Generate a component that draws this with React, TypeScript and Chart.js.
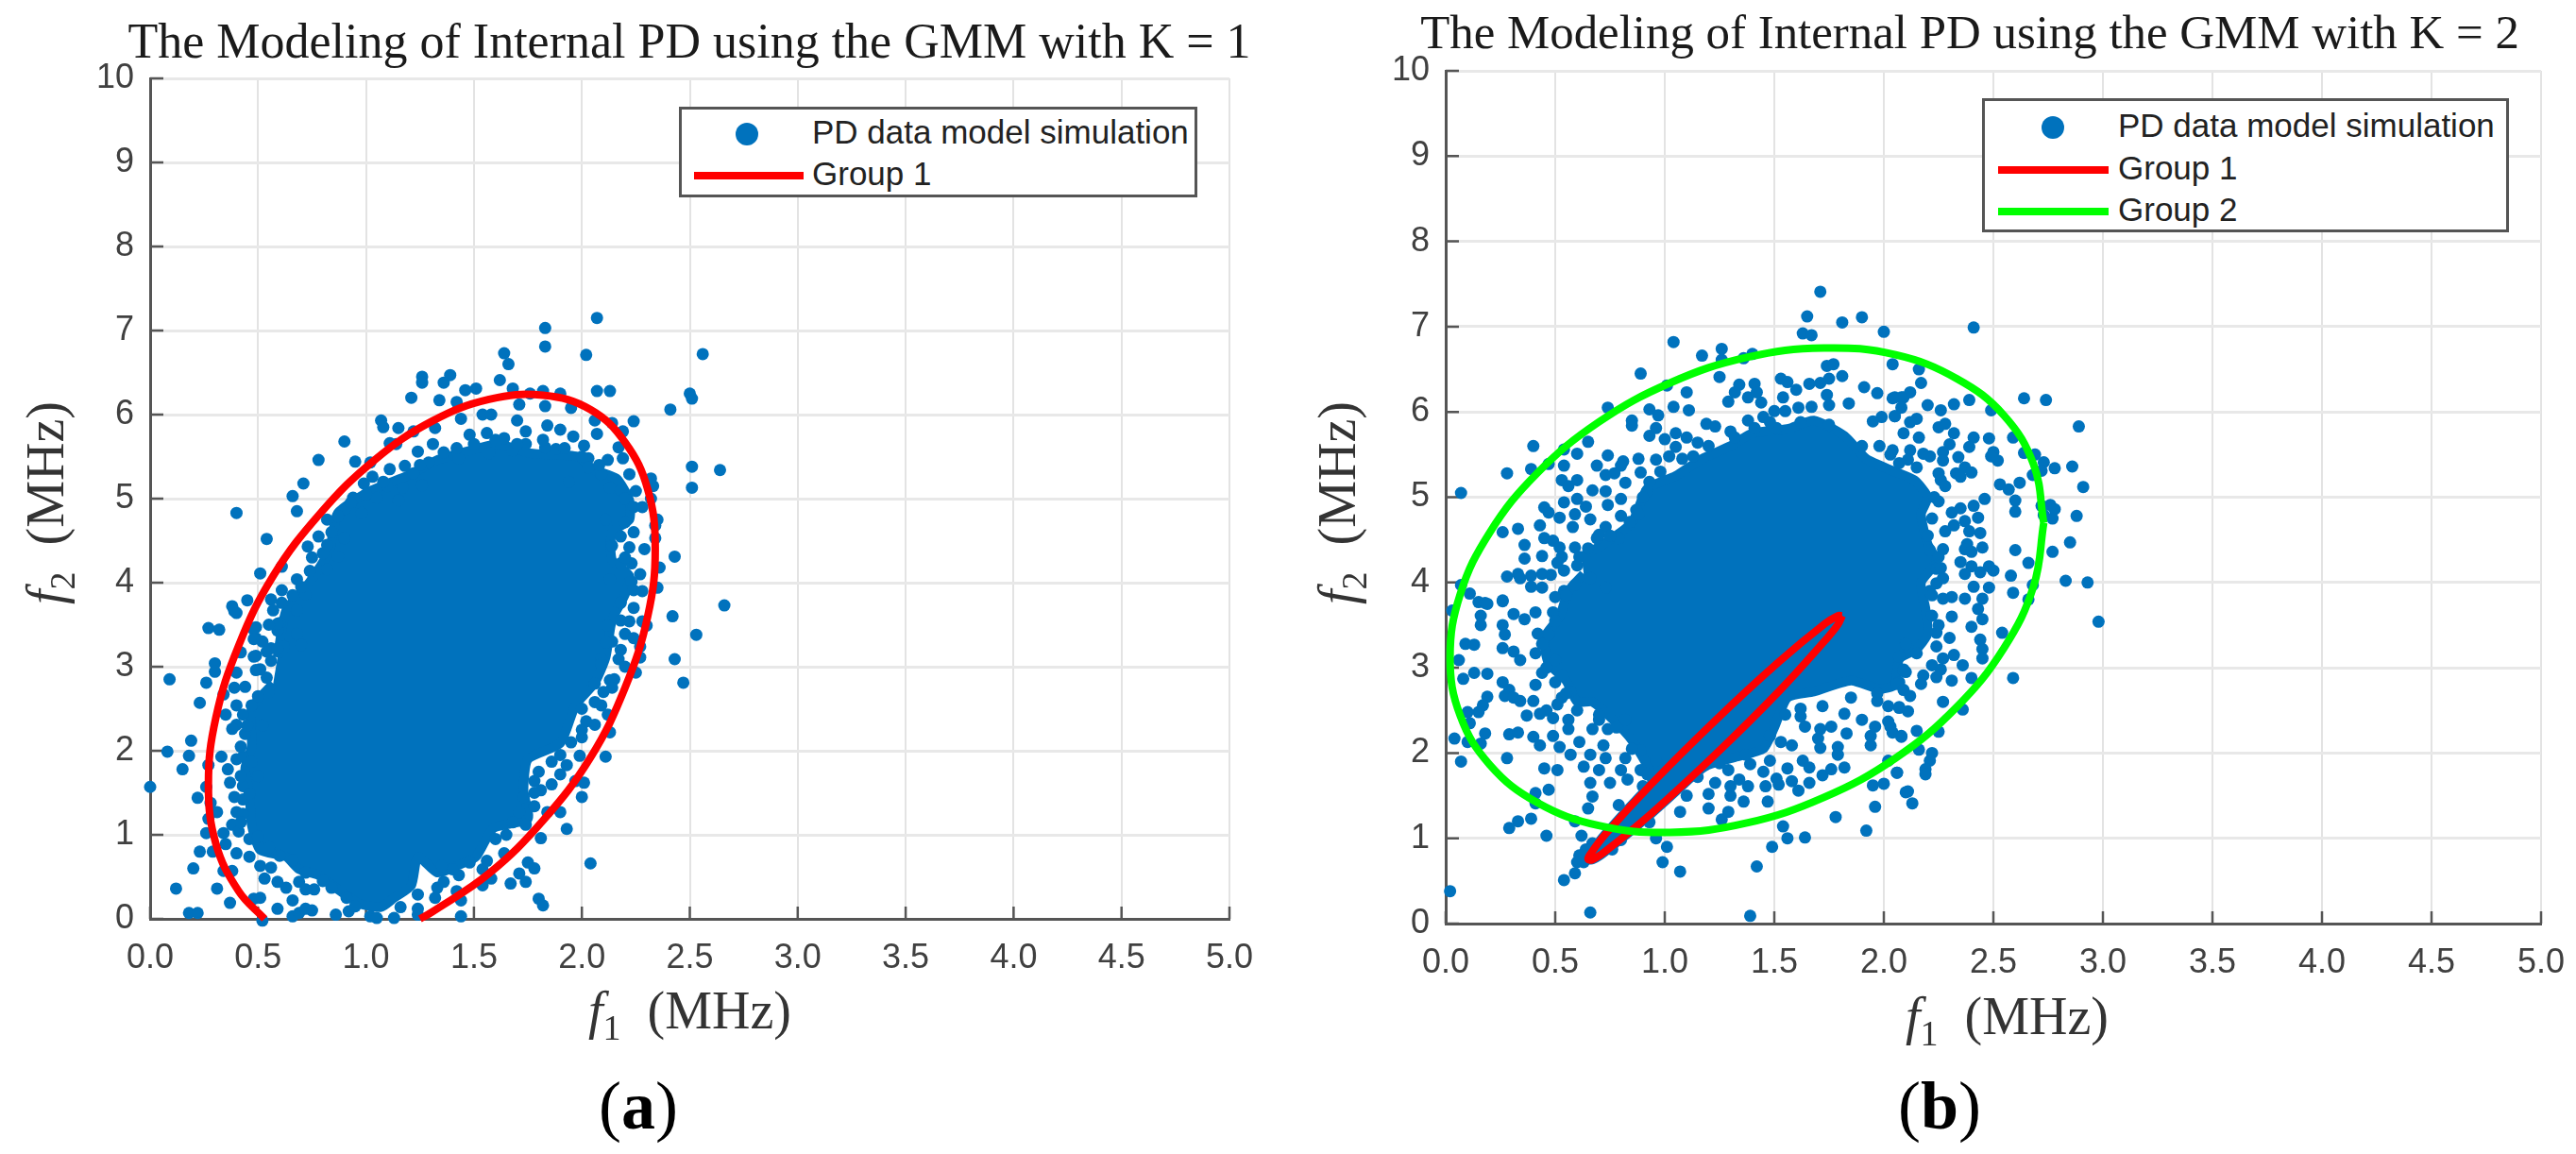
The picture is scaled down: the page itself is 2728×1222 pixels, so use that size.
import { useEffect, useRef } from "react";
import { Chart, registerables } from "chart.js";

Chart.register(...registerables);

type Pair = [number, number];

const xTickLabels = ["0.0", "0.5", "1.0", "1.5", "2.0", "2.5", "3.0", "3.5", "4.0", "4.5", "5.0"];
const yTickLabels = ["0", "1", "2", "3", "4", "5", "6", "7", "8", "9", "10"];

const titleA = "The Modeling of Internal PD using the GMM with K = 1";
const titleB = "The Modeling of Internal PD using the GMM with K = 2";
const dataLabel = "PD data model simulation";

// Panel (a): the dots that can be told apart
const pointsA: Pair[] = [
  [2.07,7.15],[1.83,7.03],[1.83,6.81],[1.64,6.73],[1.66,6.6],[2.02,6.71],[2.56,6.72],[1.26,6.45],[1.26,6.38],[1.39,6.47],[1.36,6.38],[1.62,6.41],
  [1.46,6.29],[1.51,6.31],[1.68,6.31],[1.76,6.25],[1.82,6.28],[1.9,6.25],[2.07,6.28],[2.13,6.28],[2.5,6.25],[2.51,6.19],[1.21,6.2],[1.34,6.17],[1.42,6.15],
  [2.41,6.06],[1.71,6.12],[1.83,6.1],[1.95,6.08],[1.54,6.0],[1.58,6.0],[1.7,5.93],[1.07,5.93],[1.08,5.85],[2.24,5.92],[2.14,5.9],[2.06,5.93],
  [1.15,5.84],[1.22,5.8],[1.32,5.84],[1.44,5.95],[2.19,5.8],[0.9,5.68],[2.07,5.77],[1.14,5.65],[1.11,5.66],[1.24,5.56],[1.31,5.65],
  [1.48,5.76],[1.56,5.78],[1.64,5.72],[1.74,5.8],[1.84,5.87],[1.9,5.82],[1.96,5.74],[2.01,5.63],[1.83,5.61],[1.88,5.59],[1.74,5.65],[2.17,5.61],[2.19,5.48],
  [0.78,5.46],[0.95,5.44],[1.02,5.43],[1.11,5.35],[1.18,5.39],[1.29,5.43],[1.43,5.48],[1.57,5.54],[1.68,5.57],[2.03,5.48],[2.12,5.46],[2.03,5.37],
  [2.09,5.29],[2.22,5.29],[2.32,5.24],[2.33,5.15],[2.51,5.38],[2.64,5.34],[2.51,5.13],[1.03,5.26],[0.99,5.18],[0.71,5.18],[0.66,5.03],[0.68,4.85],
  [1.17,5.13],[1.94,5.2],[2.13,5.13],[2.25,5.09],[2.32,5.0],[0.94,5.01],[1.05,5.01],[1.15,4.98],[1.26,5.16],[0.4,4.83],[0.9,4.87],[0.87,4.79],[0.98,4.83],
  [2.24,4.9],[2.11,4.75],[2.2,4.72],[2.35,4.75],[2.34,4.68],[0.84,4.6],[0.9,4.53],[2.24,4.6],[2.34,4.53],[0.54,4.52],[0.73,4.43],[2.14,4.44],[2.22,4.42],[2.29,4.4],
  [0.8,4.35],[0.87,4.31],[2.43,4.31],[0.61,4.19],[0.51,4.11],[0.74,4.14],[0.68,4.04],[0.82,4.16],[2.23,4.23],[2.18,4.23],[2.36,4.18],[2.23,4.01],[2.13,4.04],[2.24,3.91],[2.35,3.94],
  [0.61,3.91],[0.72,3.86],[0.45,3.79],[0.38,3.72],[0.4,3.64],[0.56,3.8],[0.61,3.76],[0.68,3.67],[0.57,3.67],[2.18,3.76],[2.66,3.73],[2.42,3.6],
  [2.22,3.54],[2.28,3.54],[2.3,3.49],[2.12,3.49],[0.6,3.52],[0.59,3.43],[0.49,3.47],[0.68,3.39],[0.27,3.46],[0.32,3.44],[2.53,3.38],[2.2,3.39],[2.24,3.34],[2.14,3.3],[2.27,3.24],
  [0.49,3.34],[0.56,3.22],[0.62,3.24],[0.7,3.26],[0.3,3.04],[0.3,2.94],[0.49,3.13],[0.56,3.07],[0.42,3.17],[2.18,3.2],[2.17,3.09],[2.27,3.11],[2.43,3.09],[2.25,2.93],[2.09,3.09],
  [0.09,2.85],[0.26,2.81],[2.47,2.81],[2.15,2.85],[0.4,2.93],[0.49,2.96],[0.54,2.87],[0.39,3.66],[0.48,3.44],[0.59,3.51],[0.48,3.33],[0.54,3.18],[0.59,3.21],
  [0.48,3.12],[0.51,2.97],[0.44,2.76],[0.39,2.75],[0.34,2.67],[0.23,2.57],[0.4,2.54],[0.35,2.43],[0.43,2.43],[0.47,2.54],[0.19,2.12],[0.08,1.99],[0.18,1.94],[0.15,1.78],[0.0,1.57],
  [0.33,1.93],[0.4,1.9],[0.43,1.93],[0.27,1.83],[0.36,1.78],[0.4,2.31],[0.38,2.26],[0.44,2.2],[0.47,1.87],[0.37,1.62],[0.43,1.58],[0.39,1.45],[0.43,1.42],[0.46,1.49],
  [0.26,1.57],[0.22,1.44],[0.28,1.38],[0.31,1.27],[0.27,1.19],[0.4,1.27],[0.43,1.25],[0.38,1.12],[0.41,1.04],[0.34,1.02],[0.26,1.02],[0.35,0.89],[0.23,0.8],[0.29,0.8],[0.4,0.78],[0.46,0.74],
  [0.2,0.6],[0.34,0.57],[0.38,0.57],[0.51,0.63],[0.56,0.61],[0.53,0.48],[0.12,0.36],[0.31,0.36],[0.37,0.19],[0.48,0.24],[0.51,0.25],[0.18,0.07],[0.22,0.07],[0.59,0.12],[0.52,-0.02],
  [0.66,0.03],[0.69,0.07],[0.75,0.1],[0.72,0.12],[0.86,0.05],[0.92,0.09],[0.63,0.37],[0.59,0.44],[0.69,0.44],[0.76,0.35],[0.66,0.22],[0.84,0.37],[0.91,0.25],
  [1.02,0.03],[1.05,0.01],[1.13,0.01],[1.16,0.14],[1.24,0.05],[1.24,0.12],[1.44,0.03],[1.24,0.29],[1.33,0.37],[1.36,0.44],[1.44,0.22],[1.42,0.33],[1.32,0.25],
  [1.43,0.52],[1.48,0.67],[1.4,0.59],[1.35,0.63],[1.54,0.59],[1.56,0.69],[1.54,0.4],[1.58,0.48],[1.64,0.78],[1.67,0.42],[1.71,0.54],[1.74,0.44],[1.75,0.67],[1.78,0.6],
  [1.8,0.24],[1.82,0.16],[1.81,0.96],[1.93,1.07],[1.9,1.27],[1.84,1.27],[2.04,0.66],[2.0,1.45],[2.01,1.62],[1.97,1.64],[2.11,1.93],[2.13,2.22],
  [1.78,1.34],[1.73,1.45],[1.81,1.53],[1.86,1.6],[1.71,1.27],[1.68,1.15],[1.74,1.12],[1.9,1.72],[1.93,1.83],[1.99,1.94],[1.86,1.87],[1.78,1.64],
  [2.0,2.16],[2.06,2.31],[2.09,2.54],[2.0,2.5],[2.12,2.43],[2.06,2.58],[2.13,2.84],[2.09,3.03],[2.06,2.8],[2.11,3.29],
  [0.55,3.5],[0.52,3.3],[0.55,2.7],[0.5,2.65],[0.52,2.3],[0.45,2.3],[0.42,2.05],[0.5,1.7],[0.42,1.7],[0.42,1.15],[0.46,0.95],[0.5,0.98],[0.55,0.85],[0.6,0.75],[0.66,0.7],[0.72,0.55],[0.8,0.45],[0.72,0.35],[0.95,0.15],
  [0.75,4.3],[0.78,4.55],[0.82,4.75],[0.82,4.45],[0.7,3.95],[0.66,3.85],[0.93,4.95],[1.1,5.15],[1.0,5.05],[1.08,5.2],[1.22,5.3],[1.25,5.4],[1.36,5.55],[1.42,5.6],[1.5,5.65],[1.6,5.7],[1.7,5.65],[1.82,5.7],[1.92,5.6],[2.0,5.5],[2.08,5.4],
  [2.18,5.1],[2.2,5.0],[2.28,4.9],[2.18,4.55],[2.2,4.3],[2.27,4.1],[2.28,3.9],[2.24,3.7],[2.18,3.55],[2.2,3.0],[2.14,2.75],[2.1,2.7],[2.02,2.35],[2.0,2.25],[1.95,2.1],[1.9,1.95],[1.8,1.75],[1.78,1.5],[1.6,0.95],[1.65,1.0],
];

// Panel (a): outline of the region where the dots merge into a solid mass
const coreA: Pair[] = [
  [0.59,3.11],[0.63,3.67],[0.74,4.01],[0.83,4.38],[0.87,4.83],[1.02,5.09],[1.2,5.28],[1.33,5.46],[1.48,5.57],[1.61,5.65],[1.76,5.54],[1.98,5.5],[2.05,5.35],[2.16,5.24],[2.22,4.98],[2.22,4.75],[2.14,4.6],[2.14,4.27],[2.22,4.08],[2.2,3.86],[2.14,3.56],[2.11,3.11],[2.06,2.81],
  [1.97,2.54],[1.9,2.09],[1.75,1.9],[1.73,1.53],[1.75,1.19],[1.59,1.08],[1.51,0.74],[1.42,0.63],[1.33,0.55],[1.24,0.74],[1.21,0.4],[1.13,0.25],[1.07,0.14],[0.97,0.18],[0.86,0.37],[0.78,0.52],[0.69,0.59],[0.63,0.74],[0.51,0.82],
  [0.47,1.12],[0.46,1.49],[0.44,1.79],[0.47,2.05],[0.47,2.5],[0.57,2.8],
];

const ellipseA: Pair[] = [
  [0.53,0],[0.41,0.33],[0.305,0.89],[0.27,1.6],[0.305,2.4],[0.41,3.25],[0.57,4.08],[0.79,4.83],[1.04,5.46],[1.305,5.92],[1.57,6.18],[1.82,6.23],[2.04,6.06],[2.2,5.67],[2.305,5.11],[2.34,4.4],[2.305,3.6],[2.2,2.75],[2.04,1.92],[1.82,1.17],[1.57,0.54],[1.305,0.08],[1.25,0],
];

// Panel (b): the dots that can be told apart
const pointsB: Pair[] = [
  [1.71,7.41],[1.65,7.12],[1.81,7.05],[1.9,7.11],[2.0,6.94],[1.63,6.92],[1.67,6.9],[1.04,6.82],[1.26,6.74],[1.17,6.66],[1.4,6.68],[1.36,6.63],[1.26,6.61],
  [1.74,6.54],[1.77,6.56],[2.04,6.56],[0.89,6.45],[1.25,6.41],[1.01,6.31],[1.53,6.39],[1.56,6.35],[1.81,6.42],[1.75,6.39],[1.71,6.34],[1.66,6.33],
  [1.34,6.32],[1.41,6.33],[1.32,6.23],[1.42,6.23],[1.38,6.17],[1.29,6.12],[1.44,6.11],[1.1,6.23],[1.6,6.26],[1.91,6.29],[1.97,6.22],[1.54,6.17],
  [1.74,6.2],[1.75,6.08],[1.84,6.1],[1.67,6.06],[1.61,6.05],[0.74,6.05],[1.04,6.06],[1.11,6.02],[0.93,6.03],[0.97,5.96],[2.05,6.17],[2.09,6.17],[2.05,5.95],[1.99,5.94],[1.95,5.89],
  [0.85,5.9],[0.85,5.84],[1.45,5.94],[1.5,6.01],[1.55,6.01],[1.19,5.86],[1.23,5.83],[1.38,5.9],[1.41,5.81],[1.3,5.77],[1.51,5.81],[0.96,5.81],[0.93,5.72],[1.0,5.68],[1.05,5.75],[1.1,5.7],[1.15,5.64],
  [0.4,5.6],[0.65,5.65],[0.6,5.51],[0.54,5.56],[0.74,5.49],[0.81,5.42],[0.88,5.45],[0.96,5.44],[1.02,5.48],[1.05,5.59],[1.13,5.48],[0.28,5.28],[0.39,5.33],[0.47,5.39],[0.54,5.37],[0.69,5.37],[0.8,5.37],[0.77,5.28],
  [0.53,5.2],[0.6,5.2],[0.56,5.13],[0.82,5.17],[0.73,5.26],[0.89,5.29],[0.93,5.18],[0.07,5.05],[0.67,5.08],[0.73,5.07],[0.8,4.98],[0.74,4.91],[0.92,5.07],
  [0.54,4.94],[0.6,4.98],[0.64,4.89],[0.45,4.88],[0.47,4.82],[0.52,4.76],[0.59,4.8],[0.66,4.74],[0.58,4.65],[0.8,4.78],[0.73,4.65],[0.84,4.71],[0.87,4.85],[0.43,4.67],[0.33,4.63],[0.26,4.59],
  [0.45,4.52],[0.49,4.49],[0.36,4.44],[0.52,4.41],[0.59,4.41],[0.36,4.28],[0.44,4.31],[0.53,4.3],[0.51,4.23],[0.69,4.52],[0.7,4.56],[0.61,4.3],[0.79,4.52],
  [0.28,4.07],[0.33,4.1],[0.39,4.08],[0.44,4.1],[0.48,4.09],[0.54,4.14],[0.07,3.97],[0.11,3.87],[0.15,3.77],[0.18,3.76],[0.26,3.78],[0.34,4.05],[0.39,3.95],[0.44,3.94],[0.5,3.83],[0.54,3.9],[0.59,3.97],[0.66,4.05],[0.73,3.94],
  [0.03,3.67],[0.26,3.79],[0.19,3.75],[0.16,3.61],[0.16,3.5],[0.31,3.63],[0.36,3.57],[0.26,3.5],[0.41,3.65],[0.49,3.65],[0.27,3.39],[0.09,3.28],[0.13,3.27],[0.26,3.23],[0.06,3.09],[0.31,3.19],[0.34,3.09],[0.44,3.28],[0.41,3.17],[0.5,3.09],[0.47,3.39],
  [0.13,2.94],[0.19,2.93],[0.08,2.87],[0.26,2.83],[0.29,2.74],[0.27,2.67],[0.31,2.65],[0.34,2.61],[0.19,2.66],[0.17,2.56],[0.15,2.48],[0.1,2.48],[0.11,2.35],
  [0.44,2.94],[0.41,2.8],[0.5,2.83],[0.53,2.91],[0.4,2.61],[0.46,2.5],[0.37,2.44],[0.43,2.46],[0.49,2.41],[0.56,2.39],[0.51,2.57],[0.57,2.72],[0.53,2.65],
  [0.18,2.23],[0.29,2.22],[0.33,2.24],[0.04,2.17],[0.1,2.13],[0.16,2.11],[0.4,2.19],[0.43,2.09],[0.49,2.2],[0.52,2.07],[0.57,1.98],[0.61,2.13],[0.56,2.28],[0.67,2.28],[0.72,2.09],[0.66,1.98],[0.7,2.39],[0.74,2.28],[0.82,2.39],
  [0.28,1.94],[0.07,1.9],[0.45,1.82],[0.51,1.8],[0.63,1.84],[0.7,1.8],[0.73,1.94],[0.82,1.94],[0.8,1.8],[0.89,1.8],[0.83,1.69],[0.89,2.03],[0.96,1.91],
  [0.66,1.65],[0.75,1.65],[0.41,1.53],[0.47,1.57],[0.67,1.49],[0.41,1.41],[0.65,1.35],[0.79,1.39],[0.9,1.61],[0.39,1.23],[0.33,1.2],[0.29,1.12],[0.59,1.2],[0.46,1.03],[0.62,1.03],
  [0.67,0.94],[0.64,0.87],[0.61,0.8],[0.6,0.72],[0.63,0.72],[0.59,0.59],[0.54,0.51],[0.02,0.38],[0.66,0.13],[1.39,0.09],[0.76,0.87],[0.8,0.98],[0.93,1.19],[0.96,1.0],[1.01,0.9],[0.99,0.72],[1.07,0.61],
  [1.42,0.67],[1.49,0.9],[1.56,1.0],[1.54,1.14],[1.64,1.01],[1.78,1.25],[1.92,1.09],[1.96,1.37],[1.07,1.31],[1.2,1.35],[1.2,1.52],[1.29,1.31],[1.26,1.22],[1.36,1.43],[1.47,1.43],[1.3,1.5],[1.3,1.61],[1.23,1.65],[1.38,1.61],
  [1.46,1.61],[1.52,1.63],[1.61,1.56],[1.58,1.67],[1.66,1.65],[1.51,1.7],[1.34,1.69],[1.56,1.82],[1.45,1.78],[1.48,1.91],[1.39,1.87],[1.29,1.8],[1.63,1.91],[1.66,1.83],[1.72,1.74],[1.76,1.81],[1.82,1.83],[1.79,1.98],[1.79,2.07],
  [1.58,2.09],[1.53,2.13],[1.71,2.06],[1.7,2.17],[1.71,2.28],[1.64,2.31],[1.62,2.43],[1.62,2.52],[1.76,2.31],[1.82,2.46],[1.83,2.23],[1.94,2.09],[1.94,2.2],[1.96,2.31],[1.9,2.39],[2.02,2.37],[2.04,2.24],[2.08,2.19],
  [2.06,1.77],[1.95,1.62],[2.0,1.64],[2.1,1.54],[2.02,1.91],[2.09,2.98],[2.07,2.83],[2.07,2.54],[1.97,2.61],
  [2.41,6.99],[2.16,6.5],[2.17,6.34],[2.12,6.23],[2.08,6.17],[2.04,6.16],[2.39,6.14],[2.32,6.09],[2.2,6.08],[2.26,6.02],[2.49,6.02],[2.64,6.16],[2.74,6.14],[2.08,6.05],[2.05,5.95],[2.15,5.92],[2.12,5.88],[2.89,5.83],
  [2.25,5.82],[2.28,5.86],[2.32,5.75],[2.09,5.75],[2.16,5.7],[2.41,5.7],[2.48,5.69],[2.59,5.7],[2.39,5.59],[2.3,5.62],[2.27,5.53],[2.27,5.43],[2.04,5.55],[2.12,5.55],[2.18,5.51],[2.21,5.48],[2.11,5.44],[2.34,5.47],
  [2.5,5.53],[2.52,5.43],[2.49,5.48],[2.64,5.52],[2.69,5.5],[2.73,5.41],[2.78,5.34],[2.86,5.36],[2.72,5.31],[2.68,5.26],[2.37,5.35],[2.4,5.29],[2.33,5.28],[2.35,5.24],[2.25,5.28],[2.26,5.2],[2.28,5.13],[2.91,5.12],
  [2.53,5.15],[2.57,5.09],[2.62,5.17],[2.6,4.96],[2.6,4.83],[2.23,5.0],[2.46,4.98],[2.41,4.9],[2.35,4.87],[2.31,4.82],[2.43,4.76],[2.76,4.91],[2.78,4.86],[2.72,4.9],[2.73,4.79],[2.77,4.75],[2.88,4.78],
  [2.37,4.72],[2.32,4.67],[2.44,4.58],[2.28,4.6],[2.39,4.6],[2.38,4.45],[2.45,4.41],[2.37,4.39],[2.4,4.36],[2.6,4.38],[2.77,4.36],[2.85,4.47],[2.27,4.39],[2.21,4.38],
  [2.35,4.24],[2.4,4.19],[2.48,4.19],[2.5,4.14],[2.37,4.1],[2.44,4.12],[2.66,4.23],[2.58,4.08],[2.24,4.16],[2.26,4.17],[2.24,3.99],[2.21,3.9],[2.83,4.02],[2.93,4.0],[2.68,3.97],
  [2.41,3.95],[2.48,3.94],[2.59,3.88],[2.31,3.83],[2.37,3.81],[2.45,3.81],[2.27,3.81],[2.66,3.8],[2.98,3.54],[2.31,3.6],[2.45,3.57],[2.4,3.48],[2.43,3.69],[2.24,3.41],[2.22,3.61],[2.54,3.41],
  [2.3,3.35],[2.44,3.33],[2.45,3.22],[2.45,3.11],[2.27,3.11],[2.32,3.15],[2.36,3.03],[2.22,3.03],[2.26,2.98],[2.15,3.17],[2.07,3.13],[2.1,3.28],[2.09,2.96],[2.18,2.91],[2.17,2.81],[2.24,2.89],[2.31,2.85],[2.4,2.88],[2.59,2.88],
  [2.06,2.81],[2.09,2.74],[2.12,2.67],[2.27,2.6],[2.36,2.51],[2.07,2.53],[2.11,2.49],[2.03,2.31],[2.08,2.2],[2.15,2.26],[2.25,2.25],[2.16,2.04],[2.22,2.0],[2.21,1.91],[2.19,1.81],[2.19,1.75],[2.06,1.77],[2.11,1.55],[2.13,1.41],
  [1.98,5.6],[2.03,5.5],[2.07,5.4],[2.15,5.35],[1.9,5.6],[1.75,5.85],[1.62,5.88],[1.48,5.88],[1.32,5.7],[1.2,5.6],[1.08,5.45],[0.98,5.3],[0.9,5.0],[0.88,4.8],[0.75,4.55],[0.65,4.4],[0.6,4.2],[0.55,3.85],[0.5,3.55],[0.42,3.4],[0.46,3.0],[0.55,2.7],[0.6,2.5],[0.7,2.45],[0.78,2.3],
  [0.85,2.05],[0.92,1.75],[1.0,1.5],[1.1,1.5],[1.15,1.72],[1.25,1.88],[1.37,1.98],[1.48,2.2],[1.55,2.45],[1.72,2.55],[1.85,2.65],[1.97,2.7],[2.02,2.55],[2.1,2.95],[2.24,3.25],[2.25,3.5],[2.22,3.85],[2.27,4.05],[2.25,4.3],[2.2,4.55],[2.22,4.75],[2.25,4.95],
];

// Panel (b): outline of the region where the dots merge into a solid mass
const coreB: Pair[] = [
  [0.62,4.3],[0.72,4.45],[0.85,4.7],[0.92,5.1],[1.05,5.25],[1.17,5.45],[1.3,5.6],[1.4,5.75],[1.56,5.8],[1.68,5.9],[1.82,5.72],[1.92,5.45],[2.05,5.3],[2.14,5.2],[2.2,5.0],[2.17,4.8],[2.2,4.45],[2.24,4.25],[2.17,4.0],[2.19,3.7],[2.2,3.4],[2.15,3.22],[2.07,3.1],[2.05,2.8],
  [1.98,2.75],[1.85,2.85],[1.68,2.72],[1.56,2.65],[1.5,2.3],[1.45,2.05],[1.32,1.95],[1.19,1.85],[1.07,1.62],[0.97,1.4],[0.93,1.8],[0.85,2.15],[0.76,2.4],[0.67,2.6],[0.6,2.6],[0.55,2.85],[0.47,3.05],[0.45,3.35],[0.52,3.6],[0.56,3.9],[0.63,4.1],
];

const ellipseB1: Pair[] = [
  [1.81,3.61],[1.79,3.61],[1.73,3.515],[1.52,3.067],[1.23,2.38],[0.94,1.64],[0.728,1.045],[0.659,0.81],[0.65,0.754],[0.67,0.75],[0.728,0.845],[0.94,1.293],[1.23,1.98],[1.52,2.72],[1.73,3.315],[1.79,3.505],[1.81,3.61],
];

const ellipseB2: Pair[] = [
  [2.73,4.7],[2.684,5.38],[2.548,5.96],[2.333,6.39],[2.053,6.67],[1.726,6.75],[1.375,6.64],[1.024,6.34],[0.698,5.88],[0.417,5.28],[0.202,4.59],[0.066,3.86],[0.02,3.12],[0.066,2.44],[0.202,1.86],[0.417,1.42],[0.698,1.15],[1.024,1.07],
  [1.375,1.18],[1.726,1.48],[2.053,1.94],[2.333,2.54],[2.548,3.23],[2.684,3.96],[2.73,4.7],
];

const BLUE = "#0072BD";
const RED = "#FF0000";
const GREEN = "#00FF00";
const SERIF = "'Liberation Serif', serif";
const SANS = "'Liberation Sans', sans-serif";

const xy = (rows: Pair[]) => rows.map(([x, y]) => ({ x, y }));

const curve = (label: string, rows: Pair[], color: string, order: number) => ({
  label,
  data: xy(rows),
  showLine: true,
  borderColor: color,
  borderWidth: 8,
  pointRadius: 0,
  tension: 0.4,
  fill: false,
  clip: false,
  order,
});

const solid = (label: string, rows: Pair[], order: number) => ({
  label,
  data: xy(rows),
  showLine: true,
  borderColor: BLUE,
  backgroundColor: BLUE,
  borderWidth: 10,
  pointRadius: 0,
  tension: 0.2,
  fill: "shape",
  order,
});

// MATLAB style ticks point into the plot
const inwardTicks = {
  id: "inwardTicks",
  beforeDatasetsDraw(chart: any) {
    const { ctx, scales, chartArea } = chart;
    ctx.save();
    ctx.strokeStyle = "#555555";
    ctx.lineWidth = 2.5;
    ctx.beginPath();
    scales.x.ticks.forEach((t: any) => {
      const px = scales.x.getPixelForValue(t.value);
      ctx.moveTo(px, chartArea.bottom);
      ctx.lineTo(px, chartArea.bottom - 13);
    });
    scales.y.ticks.forEach((t: any) => {
      const py = scales.y.getPixelForValue(t.value);
      ctx.moveTo(chartArea.left, py);
      ctx.lineTo(chartArea.left + 14, py);
    });
    ctx.stroke();
    ctx.restore();
  },
};

// fixed axis boxes, so the plot area lands where the reference has it
const fixBox = (scale: any, key: "width" | "height", size: number) => {
  scale[key] = size;
  scale.paddingTop = 0;
  scale.paddingBottom = 0;
  scale.paddingLeft = 0;
  scale.paddingRight = 0;
};

interface PanelProps {
  left: number;
  width: number;
  plotLeft: number;
  plotRight: number;
  plotTop: number;
  plotBottom: number;
  datasets: any[];
}

function Panel({ left, width, plotLeft, plotRight, plotTop, plotBottom, datasets }: PanelProps) {
  const canvasRef = useRef<HTMLCanvasElement | null>(null);

  useEffect(() => {
    if (!canvasRef.current) return;
    const chart = new Chart(canvasRef.current, {
      type: "scatter",
      data: { datasets },
      plugins: [inwardTicks],
      options: {
        animation: false,
        responsive: false,
        devicePixelRatio: 1,
        events: [],
        layout: { padding: { left: 0, right: left + width - plotRight, top: plotTop, bottom: 0 } },
        plugins: {
          legend: { display: false },
          tooltip: { enabled: false },
        },
        scales: {
          x: {
            type: "linear",
            min: 0,
            max: 5,
            afterFit: (s: any) => fixBox(s, "height", 1222 - plotBottom),
            border: { color: "#555555", width: 3 },
            grid: { color: "#e3e3e3", lineWidth: 2, drawTicks: false },
            ticks: {
              stepSize: 0.5,
              padding: 20,
              maxRotation: 0,
              autoSkip: false,
              color: "#404040",
              font: { family: SANS, size: 36 },
              callback: (_v: any, i: number) => xTickLabels[i],
            },
          },
          y: {
            type: "linear",
            min: 0,
            max: 10,
            afterFit: (s: any) => fixBox(s, "width", plotLeft - left),
            border: { color: "#555555", width: 3 },
            grid: { color: "#e8e8e8", lineWidth: 3, drawTicks: false },
            ticks: {
              stepSize: 1,
              padding: 17,
              autoSkip: false,
              color: "#404040",
              font: { family: SANS, size: 36 },
              callback: (_v: any, i: number) => yTickLabels[i],
            },
          },
        },
      } as any,
    });
    return () => chart.destroy();
  }, []);

  return <canvas ref={canvasRef} width={width} height={1222} style={{ position: "absolute", left, top: 0, width, height: 1222 }} />;
}

function AxisLabel({ x, y, rotate, sub }: { x: number; y: number; rotate?: boolean; sub: string }) {
  return (
    <span
      style={{
        position: "absolute",
        left: x,
        top: y,
        font: `56px ${SERIF}`,
        color: "#333333",
        whiteSpace: "pre",
        lineHeight: 1,
        transformOrigin: "0 0",
        transform: rotate ? "rotate(-90deg)" : undefined,
      }}
    >
      <i>f</i>
      <sub style={{ fontSize: 38, lineHeight: 0 }}>{sub}</sub>
      {"  (MHz)"}
    </span>
  );
}

function Title({ text, center, top, size }: { text: string; center: number; top: number; size: number }) {
  return (
    <span
      style={{
        position: "absolute",
        left: center,
        top,
        transform: "translateX(-50%)",
        font: `${size}px ${SERIF}`,
        color: "#1a1a1a",
        whiteSpace: "pre",
        lineHeight: 1,
      }}
    >
      {text}
    </span>
  );
}

function Legend({ left, top, width, height, dotX, dotY, lineX, lineW, textX, rows }: any) {
  const text = { position: "absolute", left: textX - left, font: `35px ${SANS}`, color: "#222222", lineHeight: 1, whiteSpace: "pre" } as const;
  return (
    <div style={{ position: "absolute", left, top, width, height, boxSizing: "border-box", border: "3px solid #555555", background: "#ffffff" }}>
      {rows.map((r: any) =>
        r.color === BLUE ? (
          <span key={r.label} style={{ position: "absolute", left: dotX - left - 12, top: dotY - top - 12, width: 24, height: 24, borderRadius: 12, background: BLUE }} />
        ) : (
          <span key={r.label} style={{ position: "absolute", left: lineX - left, top: r.y - top - 4, width: lineW, height: 8, background: r.color }} />
        )
      )}
      {rows.map((r: any) => (
        <span key={r.label} style={{ ...text, top: r.y - top - 20 }}>
          {r.label}
        </span>
      ))}
    </div>
  );
}

const datasetsA = [
  curve("Group 1", ellipseA, RED, 0),
  { label: dataLabel, data: xy(pointsA), backgroundColor: BLUE, borderWidth: 0, pointRadius: 6.5, clip: false, order: 1 },
  solid("PD solid region", coreA, 2),
];

const datasetsB = [
  curve("Group 2", ellipseB2, GREEN, 0),
  curve("Group 1", ellipseB1, RED, 1),
  solid("PD inside Group 1", ellipseB1, 2),
  { label: dataLabel, data: xy(pointsB), backgroundColor: BLUE, borderWidth: 0, pointRadius: 6.5, clip: false, order: 3 },
  solid("PD solid region", coreB, 4),
];

export default function App() {
  return (
    <div style={{ position: "absolute", left: 0, top: 0, width: 2728, height: 1222, background: "#ffffff", overflow: "hidden" }}>
      <Panel left={0} width={1365} plotLeft={159} plotRight={1302} plotTop={83} plotBottom={973} datasets={datasetsA} />
      <Panel left={1365} width={1363} plotLeft={1531} plotRight={2691} plotTop={75} plotBottom={978} datasets={datasetsB} />

      <Title text={titleA} center={730} top={18} size={52} />
      <Title text={titleB} center={2086} top={9} size={50.9} />

      <Legend
        left={719} top={113} width={549} height={96} dotX={788} dotY={139} lineX={732} lineW={116} textX={857}
        rows={[{ label: dataLabel, color: BLUE, y: 139 }, { label: "Group 1", color: RED, y: 183 }]}
      />
      <Legend
        left={2099} top={104} width={558} height={142} dotX={2171} dotY={132} lineX={2113} lineW={117} textX={2240}
        rows={[{ label: dataLabel, color: BLUE, y: 132 }, { label: "Group 1", color: RED, y: 177 }, { label: "Group 2", color: GREEN, y: 221 }]}
      />

      <AxisLabel x={623} y={1042} sub="1" />
      <AxisLabel x={2018} y={1048} sub="1" />
      <AxisLabel x={20} y={640} rotate sub="2" />
      <AxisLabel x={1388} y={640} rotate sub="2" />

      <span style={{ position: "absolute", left: 634, top: 1132, font: `72px ${SERIF}`, color: "#000000", lineHeight: 1.1 }}>
        (<b>a</b>)
      </span>
      <span style={{ position: "absolute", left: 2010, top: 1132, font: `72px ${SERIF}`, color: "#000000", lineHeight: 1.1 }}>
        (<b>b</b>)
      </span>
    </div>
  );
}
